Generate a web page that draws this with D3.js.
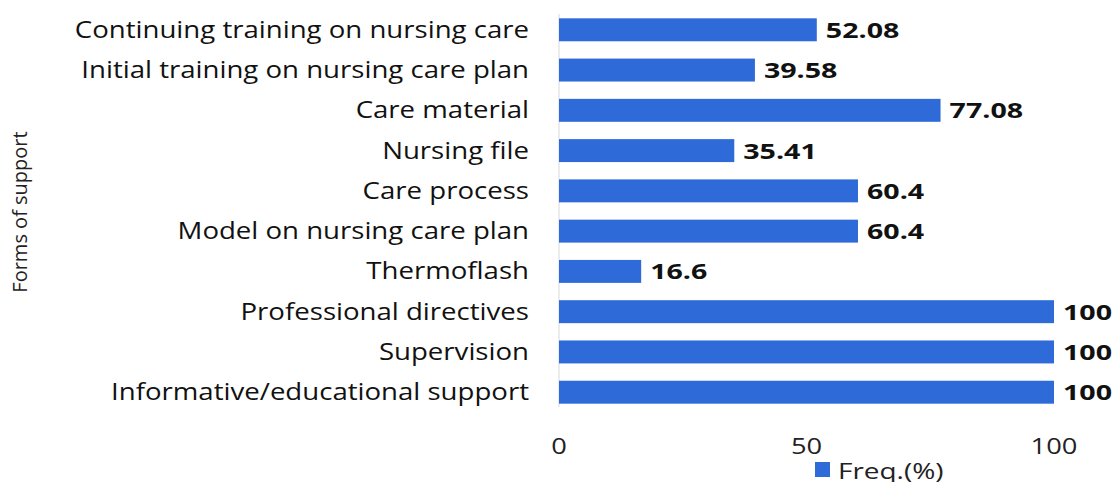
<!DOCTYPE html>
<html>
<head>
<meta charset="UTF-8">
<title>Forms of support</title>
<style>
body { margin:0; background:#fff; font-family:"Open Sans", sans-serif; }
svg { display:block; }
</style>
</head>
<body>
<svg width="1116" height="482"></svg>
<script src="https://cdn.jsdelivr.net/npm/d3@7/dist/d3.min.js"></script>
<script>
const categories = [
  'Continuing training on nursing care',
  'Initial training on nursing care plan',
  'Care material',
  'Nursing file',
  'Care process',
  'Model on nursing care plan',
  'Thermoflash',
  'Professional directives',
  'Supervision',
  'Informative/educational support'
];
const freq = [52.08, 39.58, 77.08, 35.41, 60.4, 60.4, 16.6, 100, 100, 100];
const ticks = [0, 50, 100];
const color = '#2e6bd9';

const svg = d3.select('svg');
const x = d3.scaleLinear().domain([0, 100]).range([559, 1054]);
const y = d3.scaleBand().domain(categories).range([1, 421]).padding(0.43);

// vertical axis line
svg.append('line')
  .attr('x1', x(0)).attr('x2', x(0))
  .attr('y1', 14).attr('y2', 407)
  .attr('stroke', '#d9d9d9').attr('stroke-width', 1);

svg.selectAll('rect.bar')
  .data(categories)
  .enter().append('rect')
  .attr('class', 'bar')
  .attr('x', x(0))
  .attr('y', d => y(d))
  .attr('width', (d, i) => x(freq[i]) - x(0))
  .attr('height', y.bandwidth())
  .attr('fill', color);

// value labels (text in the source is wide, so stretch horizontally)
svg.selectAll('text.val')
  .data(categories)
  .enter().append('text')
  .attr('class', 'val')
  .attr('transform', (d, i) => `translate(${x(freq[i]) + 9},${y(d) + y.bandwidth() / 2}) scale(1.3,1)`)
  .attr('dy', '0.36em')
  .attr('font-size', 22)
  .attr('font-weight', 'bold')
  .attr('fill', '#111')
  .text((d, i) => freq[i]);

// category labels
svg.selectAll('text.cat')
  .data(categories)
  .enter().append('text')
  .attr('class', 'cat')
  .attr('transform', d => `translate(529,${y(d) + y.bandwidth() / 2}) scale(1.2,1)`)
  .attr('dy', '0.35em')
  .attr('text-anchor', 'end')
  .attr('font-size', 23)
  .attr('fill', '#111')
  .text(d => d);

// x tick labels
svg.selectAll('text.tick')
  .data(ticks)
  .enter().append('text')
  .attr('class', 'tick')
  .attr('transform', d => `translate(${x(d)},454) scale(1.3,1)`)
  .attr('text-anchor', 'middle')
  .attr('font-size', 21)
  .attr('fill', '#222')
  .text(d => d);

// y title
svg.append('text')
  .attr('transform', 'translate(27,212) rotate(-90)')
  .attr('text-anchor', 'middle')
  .attr('font-size', 20)
  .attr('fill', '#222')
  .text('Forms of support');

// legend
svg.append('rect').attr('x', 815).attr('y', 462).attr('width', 15).attr('height', 15).attr('fill', color);
svg.append('text').attr('transform', 'translate(838,479) scale(1.27,1)')
  .attr('font-size', 22).attr('fill', '#222').text('Freq.(%)');
</script>
</body>
</html>
